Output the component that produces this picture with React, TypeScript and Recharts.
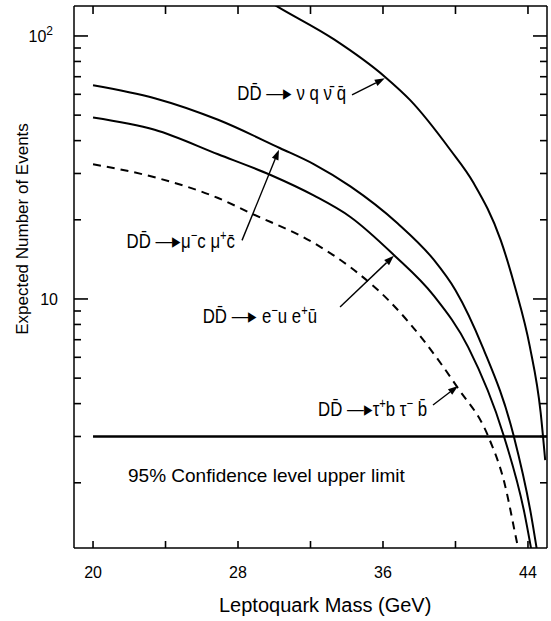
import React from "react";
import { LineChart, Line, XAxis, YAxis, ReferenceLine, ReferenceDot, Label } from "recharts";

// curves: leptoquark mass (GeV) vs expected number of events
const massNuQ = [29.8, 30.2, 33.3, 36.1, 37.5, 39.7, 41.0, 42.5, 43.3, 44.1, 44.7, 44.95];
const eventsNuQ = [134, 129, 97, 70, 57, 37, 27.6, 16.7, 11, 6.6, 3.7, 2.44];

const massMuC = [20, 23.4, 26.9, 30.3, 32.2, 34.2, 36.8, 38.8, 40.0, 41.5, 43.2, 44.15, 44.55];
const eventsMuC = [65, 58, 48, 37.5, 32.5, 26.8, 19.4, 14.1, 10.8, 6.56, 3.04, 1.54, 1.05];

const massEU = [20, 23.4, 26.9, 29.8, 32.2, 34.2, 36.6, 38.8, 40.7, 42.65, 43.8, 44.25];
const eventsEU = [49, 44, 35.5, 29.6, 24.7, 20.5, 14.7, 10.3, 6.56, 3.04, 1.54, 1.05];

const massTauB = [20, 23.5, 26.9, 28.7, 32.2, 34.2, 36.3, 40.1, 41.8, 42.7, 43.4, 43.65];
const eventsTauB = [32.5, 28.9, 24.2, 21.2, 16.3, 13.2, 9.9, 4.62, 3.01, 2.0, 1.18, 0.98];

const limitMass = [20, 45.05];
const limitEvents = [3, 3];

const massTicks = [20, 24, 28, 32, 36, 40, 44];
const massLabels = [20, 28, 36, 44];
const eventTicks = [2, 3, 4, 5, 6, 7, 8, 9, 10, 20, 30, 40, 50, 60, 70, 80, 90, 100];

const toPoints = (ms: number[], vs: number[]) => ms.map((m, i) => ({ m, v: vs[i] }));

const X_DOMAIN: [number, number] = [18.95, 45.05];
const Y_DOMAIN: [number, number] = [1.13, 130];
const PLOT_W = 473;
const PLOT_H = 542;

const INK = "#000";
const NUM_FONT = "'Liberation Sans', Arial, sans-serif";

// inward tick lengths, converted from pixels to data units
const pxToMass = (px: number) => (px * (X_DOMAIN[1] - X_DOMAIN[0])) / PLOT_W;
const pxToFactor = (px: number) => Math.pow(Y_DOMAIN[1] / Y_DOMAIN[0], px / PLOT_H);
const isMajor = (v: number) => v === 10 || v === 100;
const yTickLen = (v: number) => (isMajor(v) ? 14 : 7);

const BottomTick = (props: any) => {
    const { x, y, payload } = props;
    if (!massLabels.includes(payload.value)) return <g />;
    return (
        <text x={x} y={y + 30} textAnchor="middle" fontFamily={NUM_FONT} fontSize={16} fill={INK}>
            {payload.value}
        </text>
    );
};

const LeftTick = (props: any) => {
    const { x, y, payload } = props;
    const v = payload.value;
    if (!isMajor(v)) return <g />;
    return v === 10 ? (
        <text x={x - 16} y={y + 6} textAnchor="end" fontFamily={NUM_FONT} fontSize={16} fill={INK}>
            10
        </text>
    ) : (
        <text x={x - 21} y={y + 6} textAnchor="end" fontFamily={NUM_FONT} fontSize={16} fill={INK}>
            10
            <tspan dy={-7} fontSize={12}>2</tspan>
        </text>
    );
};

const NoTick = () => <g />;

type Part = { t: string; sup?: boolean };

const renderParts = (parts: Part[]) =>
    parts.map((p, i) => {
        const prevSup = i > 0 && parts[i - 1].sup;
        const dy = (p.sup ? -8 : 0) + (prevSup ? 8 : 0);
        return (
            <tspan key={i} dy={dy} fontSize={p.sup ? 14 : undefined}>
                {p.t}
            </tspan>
        );
    });

const ARROW = "\u2014\u25b8";
const nuLabel: Part[] = [{ t: `DD\u0304 ${ARROW} \u03bd q \u03bd\u0304 q\u0304` }];
const muLabel: Part[] = [{ t: `DD\u0304 ${ARROW}\u03bc` }, { t: "\u2212", sup: true }, { t: "c \u03bc" }, { t: "+", sup: true }, { t: "c\u0304" }];
const eLabel: Part[] = [{ t: `DD\u0304   ${ARROW} e` }, { t: "\u2212", sup: true }, { t: "u e" }, { t: "+", sup: true }, { t: "u\u0304" }];
const tauLabel: Part[] = [{ t: `DD\u0304 ${ARROW}\u03c4` }, { t: "+", sup: true }, { t: "b \u03c4" }, { t: "\u2212", sup: true }, { t: " b\u0304" }];

// arrow from a label to its curve; the label hangs off the arrow tail
const arrowShape = (parts: Part[], dx: number, dy: number) => (props: any) => {
    const { x1, y1, x2, y2 } = props;
    const ang = Math.atan2(y2 - y1, x2 - x1);
    const L = 10;
    const W = 3.5;
    const bx = x2 - L * Math.cos(ang);
    const by = y2 - L * Math.sin(ang);
    const px = -Math.sin(ang) * W;
    const py = Math.cos(ang) * W;
    return (
        <g>
            <line x1={x1} y1={y1} x2={bx} y2={by} stroke={INK} strokeWidth={1.4} />
            <polygon points={`${x2},${y2} ${bx + px},${by + py} ${bx - px},${by - py}`} fill={INK} />
            <text transform={`translate(${x1 + dx},${y1 + dy}) scale(0.8,1)`} textAnchor="end" fontFamily={NUM_FONT} fontSize={21} fill={INK}>
                {renderParts(parts)}
            </text>
        </g>
    );
};

const tickShape = (props: any) => {
    const { x1, y1, x2, y2 } = props;
    return <line x1={x1} y1={y1} x2={x2} y2={y2} stroke={INK} strokeWidth={1.6} />;
};

const XTitle = (props: any) => {
    const { viewBox } = props;
    return (
        <text x={viewBox.x + 145} y={viewBox.y + 64} fontFamily={NUM_FONT} fontSize={20} fill={INK}>
            Leptoquark Mass (GeV)
        </text>
    );
};

const YTitle = () => {
    const cx = 22;
    const cy = 229;
    return (
        <text x={cx} y={cy} transform={`rotate(-90 ${cx} ${cy})`} textAnchor="middle" dominantBaseline="central" fontFamily={NUM_FONT} fontSize={17} fill={INK}>
            Expected Number of Events
        </text>
    );
};

export default function App() {
    const axisLine = { stroke: INK, strokeWidth: 1.5 };
    const [xLo, xHi] = X_DOMAIN;
    const [yLo, yHi] = Y_DOMAIN;
    return (
        <div style={{ position: "absolute", left: 0, top: 0, width: 551, height: 621, background: "#fff" }}>
            <LineChart width={551} height={621} margin={{ top: 0, right: 0, bottom: 0, left: 0 }}>
                <XAxis xAxisId="b" type="number" dataKey="m" domain={X_DOMAIN} allowDataOverflow ticks={massTicks} interval={0}
                    orientation="bottom" height={73} tickSize={0} tickMargin={0} tickLine={false} tick={<BottomTick />} axisLine={axisLine}>
                    <Label content={<XTitle />} />
                </XAxis>
                <XAxis xAxisId="t" type="number" dataKey="m" domain={X_DOMAIN} allowDataOverflow ticks={massTicks} interval={0}
                    orientation="top" height={6} tickSize={0} tickMargin={0} tickLine={false} tick={<NoTick />} axisLine={axisLine} />
                <YAxis yAxisId="l" scale="log" domain={Y_DOMAIN} allowDataOverflow ticks={eventTicks} interval={0}
                    width={74} tickSize={0} tickMargin={0} tickLine={false} tick={<LeftTick />} axisLine={axisLine}>
                    <Label content={<YTitle />} />
                </YAxis>
                <YAxis yAxisId="r" orientation="right" scale="log" domain={Y_DOMAIN} allowDataOverflow ticks={eventTicks} interval={0}
                    width={4} tickSize={0} tickMargin={0} tickLine={false} tick={<NoTick />} axisLine={axisLine} />

                {massTicks.map((m) => (
                    <ReferenceLine key={`b${m}`} xAxisId="b" yAxisId="l" ifOverflow="visible" shape={tickShape}
                        segment={[{ x: m, y: yLo }, { x: m, y: yLo * pxToFactor(7) }]} />
                ))}
                {massTicks.map((m) => (
                    <ReferenceLine key={`t${m}`} xAxisId="b" yAxisId="l" ifOverflow="visible" shape={tickShape}
                        segment={[{ x: m, y: yHi }, { x: m, y: yHi / pxToFactor(8) }]} />
                ))}
                {eventTicks.map((v) => (
                    <ReferenceLine key={`l${v}`} xAxisId="b" yAxisId="l" ifOverflow="visible" shape={tickShape}
                        segment={[{ x: xLo, y: v }, { x: xLo + pxToMass(yTickLen(v)), y: v }]} />
                ))}
                {eventTicks.map((v) => (
                    <ReferenceLine key={`r${v}`} xAxisId="b" yAxisId="l" ifOverflow="visible" shape={tickShape}
                        segment={[{ x: xHi, y: v }, { x: xHi - pxToMass(yTickLen(v)), y: v }]} />
                ))}

                <Line xAxisId="b" yAxisId="l" data={toPoints(massNuQ, eventsNuQ)} dataKey="v" type="monotone" stroke={INK} strokeWidth={2} dot={false} activeDot={false} isAnimationActive={false} />
                <Line xAxisId="b" yAxisId="l" data={toPoints(massMuC, eventsMuC)} dataKey="v" type="monotone" stroke={INK} strokeWidth={2} dot={false} activeDot={false} isAnimationActive={false} />
                <Line xAxisId="b" yAxisId="l" data={toPoints(massEU, eventsEU)} dataKey="v" type="monotone" stroke={INK} strokeWidth={2} dot={false} activeDot={false} isAnimationActive={false} />
                <Line xAxisId="b" yAxisId="l" data={toPoints(massTauB, eventsTauB)} dataKey="v" type="monotone" stroke={INK} strokeWidth={2} strokeDasharray="8 6" dot={false} activeDot={false} isAnimationActive={false} />
                <Line xAxisId="b" yAxisId="l" data={toPoints(limitMass, limitEvents)} dataKey="v" type="linear" stroke={INK} strokeWidth={2.4} dot={false} activeDot={false} isAnimationActive={false} />

                <ReferenceLine xAxisId="b" yAxisId="l" segment={[{ x: 34.29, y: 59.7 }, { x: 36.1, y: 69 }]} shape={arrowShape(nuLabel, -6, 5)} ifOverflow="visible" />
                <ReferenceLine xAxisId="b" yAxisId="l" segment={[{ x: 28.22, y: 16.7 }, { x: 30.26, y: 36.9 }]} shape={arrowShape(muLabel, -7, 8)} ifOverflow="visible" />
                <ReferenceLine xAxisId="b" yAxisId="l" segment={[{ x: 33.63, y: 9.33 }, { x: 36.6, y: 14.6 }]} shape={arrowShape(eLabel, -23, 16)} ifOverflow="visible" />
                <ReferenceLine xAxisId="b" yAxisId="l" segment={[{ x: 38.76, y: 3.95 }, { x: 40.14, y: 4.67 }]} shape={arrowShape(tauLabel, -6, 11)} ifOverflow="visible" />
                <ReferenceDot xAxisId="b" yAxisId="l" x={21.93} y={2.01} ifOverflow="visible"
                    shape={(p: any) => (
                        <text x={p.cx} y={p.cy} fontFamily={NUM_FONT} fontSize={19} fill={INK}>
                            95% Confidence level upper limit
                        </text>
                    )} />
            </LineChart>
        </div>
    );
}
